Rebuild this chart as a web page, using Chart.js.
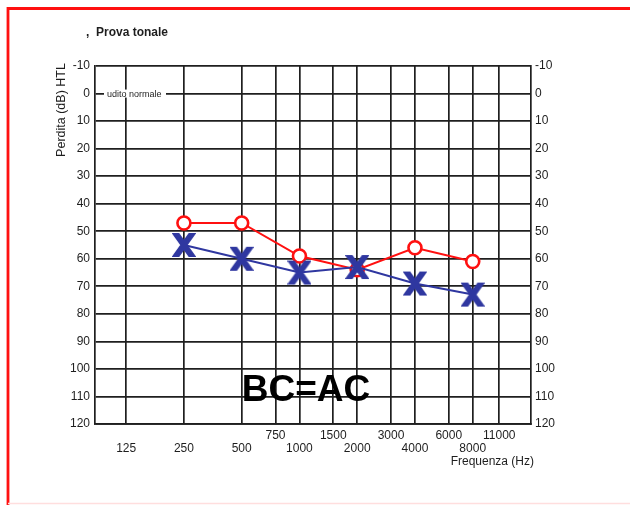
<!DOCTYPE html>
<html>
<head>
<meta charset="utf-8">
<script src="https://cdn.jsdelivr.net/npm/chart.js@4"></script>
<style>
  html, body { margin: 0; padding: 0; background: #fff; }
  #wrap { width: 630px; height: 505px; position: relative; }
</style>
</head>
<body>
<div id="wrap"><canvas id="audio" width="630" height="505"></canvas></div>
<script>
// ─── Audiogram data ────────────────────────────────────────────────────────
const tickFreqs  = [125, 250, 500, 750, 1000, 1500, 2000, 3000, 4000, 6000, 8000, 11000];
const upperRow   = [750, 1500, 3000, 6000, 11000];   // labels drawn on the upper line
const testFreqs  = [250, 500, 1000, 2000, 4000, 8000];
const circleLoss = [47, 47, 59, 64, 56, 61];         // red O
const crossLoss  = [55, 60, 65, 63, 69, 73];         // blue X

const RED  = "#ff1010";
const BLUE = "#2f37a0";
const INK  = "#1e1e1e";
const FONT = "'Liberation Sans', Arial, Helvetica, sans-serif";

// Heavy "X" mark used as point style (like the bold glyph in the scan)
function makeCross() {
  const c = document.createElement("canvas");
  c.width = 24; c.height = 26;
  const g = c.getContext("2d");
  g.beginPath();
  g.rect(0, 1, 24, 24);
  g.clip();               // flat horizontal ends, as in a bold sans X
  g.strokeStyle = BLUE;
  g.lineWidth = 6.2;
  g.beginPath();
  g.moveTo(2, -1); g.lineTo(22, 27);
  g.moveTo(22, -1); g.lineTo(2, 27);
  g.stroke();
  return c;
}

const pts = (vals) => testFreqs.map((f, i) => ({ x: f, y: vals[i] }));

// Static texts of the printed form
const formText = {
  id: "formText",
  beforeDatasetsDraw(chart) {
    const { ctx, scales } = chart;
    ctx.save();
    // "udito normale" on the 0 dB line
    const y0 = scales.y.getPixelForValue(0);
    ctx.fillStyle = "#fff";
    ctx.fillRect(104, y0 - 4, 62, 8);
    ctx.fillStyle = INK;
    ctx.font = "9px " + FONT;
    ctx.textBaseline = "middle";
    ctx.textAlign = "left";
    ctx.fillText("udito normale", 107, y0 + 0.5);
    ctx.restore();
  },
  afterDraw(chart) {
    const { ctx } = chart;
    ctx.save();
    // red frame
    ctx.strokeStyle = RED;
    ctx.lineWidth = 2.8;
    ctx.beginPath();
    ctx.moveTo(8, 505); ctx.lineTo(8, 8.5); ctx.lineTo(630, 8.5);
    ctx.stroke();
    ctx.strokeStyle = "#ffdede";
    ctx.lineWidth = 1.5;
    ctx.beginPath();
    ctx.moveTo(8, 503.5); ctx.lineTo(630, 503.5);
    ctx.stroke();

    ctx.fillStyle = INK;
    ctx.textBaseline = "middle";
    ctx.font = "bold 12px " + FONT;
    ctx.textAlign = "left";
    ctx.fillText(",", 86, 33);
    ctx.fillText("Prova tonale", 96, 33);

    ctx.font = "12px " + FONT;
    ctx.textAlign = "right";
    ctx.fillText("Frequenza (Hz)", 534, 462);

    ctx.save();
    ctx.translate(62, 110);
    ctx.rotate(-Math.PI / 2);
    ctx.font = "12.5px " + FONT;
    ctx.textAlign = "center";
    ctx.fillText("Perdita (dB) HTL", 0, 0);
    ctx.restore();

    ctx.fillStyle = "#000";
    ctx.font = "bold 37px " + FONT;
    ctx.textAlign = "center";
    ctx.fillText("BC=AC", 306, 391);
    ctx.restore();
  }
};

const gridStyle = { color: "#1f1f1f", lineWidth: 1.7, drawTicks: false };
const yTicks = {
  stepSize: 10,
  color: INK,
  font: { family: FONT, size: 12 },
};

new Chart(document.getElementById("audio"), {
  type: "line",
  data: {
    datasets: [
      {
        label: "X",
        data: pts(crossLoss),
        borderColor: BLUE,
        borderWidth: 2,
        pointStyle: makeCross(),
        pointRadius: 12,
        tension: 0,
        fill: false,
        order: 0,
      },
      {
        label: "O",
        data: pts(circleLoss),
        borderColor: RED,
        backgroundColor: "#fff",
        borderWidth: 2,
        pointStyle: "circle",
        pointRadius: 6.5,
        pointBorderWidth: 2.6,
        pointBackgroundColor: "#fff",
        pointBorderColor: RED,
        tension: 0,
        fill: false,
        order: 1,
      },
    ],
  },
  options: {
    responsive: false,
    animation: false,
    layout: { padding: { top: 66, left: 0, right: 0, bottom: 0 } },
    plugins: {
      legend: { display: false },
      tooltip: { enabled: false },
    },
    scales: {
      x: {
        type: "logarithmic",
        min: 86,
        max: 16100,
        afterBuildTicks: (s) => { s.ticks = tickFreqs.map(v => ({ value: v })); },
        afterFit: (s) => { s.height = 81; },
        grid: gridStyle,
        border: { color: "#1f1f1f", width: 1.7 },
        ticks: {
          autoSkip: false,
          maxRotation: 0,
          padding: 5,
          color: INK,
          font: { family: FONT, size: 12, lineHeight: 1.08 },
          callback: (v) => upperRow.includes(v) ? [String(v), ""] : ["", String(v)],
        },
      },
      y: {
        type: "linear",
        position: "left",
        reverse: true,
        min: -10,
        max: 120,
        afterFit: (s) => { s.width = 95; },
        grid: gridStyle,
        border: { color: "#1f1f1f", width: 1.7 },
        ticks: { ...yTicks, padding: 5 },
      },
      y2: {
        type: "linear",
        position: "right",
        reverse: true,
        min: -10,
        max: 120,
        afterFit: (s) => { s.width = 99; },
        grid: { drawOnChartArea: false, drawTicks: false },
        border: { color: "#1f1f1f", width: 1.7 },
        ticks: { ...yTicks, padding: 4 },
      },
    },
  },
  plugins: [formText],
});
</script>
</body>
</html>
